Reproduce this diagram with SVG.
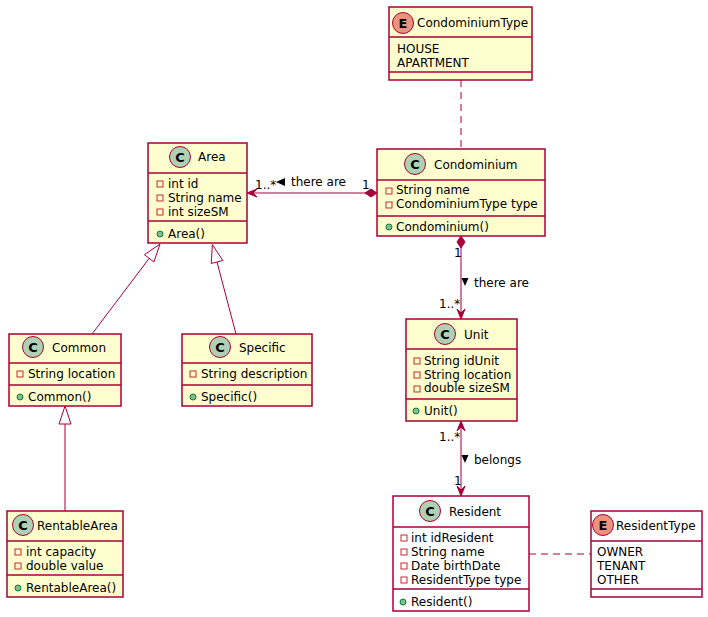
<svg xmlns="http://www.w3.org/2000/svg" width="708" height="617" viewBox="0 0 708 617">
<style>
text{font-family:"DejaVu Sans","Liberation Sans",sans-serif;font-size:12px;fill:#000}
.box{fill:#FEFECE;stroke:#A80036;stroke-width:1.5}
.wbox{fill:#FFFFFF;stroke:#A80036;stroke-width:1.5}
.sep{stroke:#A80036;stroke-width:1.5}
.cc{fill:#ADD1B2;stroke:#A80036;stroke-width:1}
.ec{fill:#EB937F;stroke:#A80036;stroke-width:1}
.lt{font-weight:bold;font-size:13px;text-anchor:middle}
.pv{fill:none;stroke:#C82930;stroke-width:1}
.pb{fill:#84BE84;stroke:#038048;stroke-width:1}
.ln{fill:none;stroke:#A80036;stroke-width:1}
.dl{fill:none;stroke:#A80036;stroke-width:1;stroke-dasharray:7,5}
.ah{fill:#A80036;stroke:#A80036;stroke-width:1}
.gh{fill:none;stroke:#A80036;stroke-width:1}
.la{fill:#000000;stroke:none}
</style>
<rect width="708" height="617" fill="#FFFFFF"/>

<g id="connectors">
<line class="dl" x1="461" y1="80" x2="461" y2="149"/>
<line class="dl" x1="529" y1="554" x2="591" y2="554"/>
<line class="ln" x1="250" y1="193" x2="366" y2="193"/>
<polygon class="ah" points="247,193 257,189 253,193 257,197"/>
<polygon class="ah" points="377,193 371,189 365,193 371,197"/>
<text x="255" y="189">1..*</text>
<polygon class="la" points="276,182 285,178 285,186"/>
<text x="291" y="186">there are</text>
<text x="362" y="189">1</text>
<line class="ln" x1="461" y1="247" x2="461" y2="316"/>
<polygon class="ah" points="461,236 457,242 461,248 465,242"/>
<polygon class="ah" points="461,319 457,309 461,313 465,309"/>
<text x="454" y="257">1</text>
<polygon class="la" points="461.5,278 468.5,278 465,286"/>
<text x="474" y="287">there are</text>
<text x="439" y="308">1..*</text>
<line class="ln" x1="461" y1="424" x2="461" y2="493"/>
<polygon class="ah" points="461,421 457,431 461,427 465,431"/>
<polygon class="ah" points="461,496 457,486 461,490 465,486"/>
<text x="439" y="441">1..*</text>
<polygon class="la" points="461.5,455 468.5,455 465,463"/>
<text x="474" y="464">belongs</text>
<text x="454" y="485">1</text>
<line class="ln" x1="149.15" y1="258.36" x2="92" y2="334"/>
<polygon class="gh" points="160,244 153.9,262 144.4,254.7"/>
<line class="ln" x1="217" y1="262" x2="236" y2="334"/>
<polygon class="gh" points="212.4,244.6 222.8,260.5 211.2,263.5"/>
<line class="ln" x1="65" y1="424" x2="65" y2="511"/>
<polygon class="gh" points="65,406 59,424 71,424"/>
</g>

<g id="CondominiumType">
<rect class="box" x="389" y="7" width="143" height="73"/>
<circle class="ec" cx="403" cy="23" r="10.5"/>
<text class="lt" x="403" y="27.5">E</text>
<text x="417" y="27">CondominiumType</text>
<line class="sep" x1="389" y1="37" x2="532" y2="37"/>
<text x="397" y="52.5">HOUSE</text>
<text x="397" y="66.5">APARTMENT</text>
<line class="sep" x1="389" y1="72" x2="532" y2="72"/>
</g>

<g id="Area">
<rect class="box" x="148" y="143" width="99" height="100"/>
<circle class="cc" cx="180" cy="157" r="10.5"/>
<text class="lt" x="180" y="161.5">C</text>
<text x="198" y="161">Area</text>
<line class="sep" x1="148" y1="173" x2="247" y2="173"/>
<rect class="pv" x="157" y="181" width="6" height="6"/>
<text x="168" y="187.5">int id</text>
<rect class="pv" x="157" y="195" width="6" height="6"/>
<text x="168" y="201.5">String name</text>
<rect class="pv" x="157" y="209" width="6" height="6"/>
<text x="168" y="215.5">int sizeSM</text>
<line class="sep" x1="148" y1="221" x2="247" y2="221"/>
<circle class="pb" cx="160" cy="234" r="3"/>
<text x="168" y="237.5">Area()</text>
</g>

<g id="Condominium">
<rect class="box" x="377" y="149" width="168" height="87"/>
<circle class="cc" cx="415" cy="164" r="10.5"/>
<text class="lt" x="415" y="168.5">C</text>
<text x="434" y="168.5">Condominium</text>
<line class="sep" x1="377" y1="180" x2="545" y2="180"/>
<rect class="pv" x="386" y="188" width="6" height="6"/>
<text x="396" y="194">String name</text>
<rect class="pv" x="386" y="202" width="6" height="6"/>
<text x="396" y="208">CondominiumType type</text>
<line class="sep" x1="377" y1="216" x2="545" y2="216"/>
<circle class="pb" cx="389" cy="227" r="3"/>
<text x="396" y="230.5">Condominium()</text>
</g>

<g id="Unit">
<rect class="box" x="406" y="319" width="111" height="102"/>
<circle class="cc" cx="445" cy="334" r="10.5"/>
<text class="lt" x="445" y="338.5">C</text>
<text x="464" y="338.5">Unit</text>
<line class="sep" x1="406" y1="349" x2="517" y2="349"/>
<rect class="pv" x="414" y="358" width="6" height="6"/>
<text x="424" y="364.5">String idUnit</text>
<rect class="pv" x="414" y="372" width="6" height="6"/>
<text x="424" y="378.5">String location</text>
<rect class="pv" x="414" y="386" width="6" height="6"/>
<text x="424" y="392">double sizeSM</text>
<line class="sep" x1="406" y1="399" x2="517" y2="399"/>
<circle class="pb" cx="416" cy="411" r="3"/>
<text x="424" y="414.5">Unit()</text>
</g>

<g id="Resident">
<rect class="wbox" x="393" y="496" width="136" height="115"/>
<circle class="cc" cx="430" cy="511" r="10.5"/>
<text class="lt" x="430" y="515.5">C</text>
<text x="449" y="515.5">Resident</text>
<line class="sep" x1="393" y1="527" x2="529" y2="527"/>
<rect class="pv" x="401" y="535" width="6" height="6"/>
<text x="411" y="541.5">int idResident</text>
<rect class="pv" x="401" y="549" width="6" height="6"/>
<text x="411" y="555.5">String name</text>
<rect class="pv" x="401" y="563" width="6" height="6"/>
<text x="411" y="569.5">Date birthDate</text>
<rect class="pv" x="401" y="577" width="6" height="6"/>
<text x="411" y="583.5">ResidentType type</text>
<line class="sep" x1="393" y1="589" x2="529" y2="589"/>
<circle class="pb" cx="403" cy="602" r="3"/>
<text x="411" y="605.5">Resident()</text>
</g>

<g id="ResidentType">
<rect class="wbox" x="591" y="511" width="111" height="86"/>
<circle class="ec" cx="603" cy="525" r="10.5"/>
<text class="lt" x="603" y="529.5">E</text>
<text x="616" y="529.5">ResidentType</text>
<line class="sep" x1="591" y1="541" x2="702" y2="541"/>
<text x="597" y="555.5">OWNER</text>
<text x="597" y="569.5">TENANT</text>
<text x="597" y="583.5">OTHER</text>
<line class="sep" x1="591" y1="589" x2="702" y2="589"/>
</g>

<g id="Common">
<rect class="box" x="9" y="334" width="112" height="72"/>
<circle class="cc" cx="33" cy="347" r="10.5"/>
<text class="lt" x="33" y="351.5">C</text>
<text x="52" y="351.5">Common</text>
<line class="sep" x1="9" y1="363" x2="121" y2="363"/>
<rect class="pv" x="17" y="371" width="6" height="6"/>
<text x="28" y="377.5">String location</text>
<line class="sep" x1="9" y1="385" x2="121" y2="385"/>
<circle class="pb" cx="20" cy="397" r="3"/>
<text x="28" y="400.5">Common()</text>
</g>

<g id="Specific">
<rect class="box" x="182" y="334" width="130" height="72"/>
<circle class="cc" cx="220" cy="347" r="10.5"/>
<text class="lt" x="220" y="351.5">C</text>
<text x="239" y="351.5">Specific</text>
<line class="sep" x1="182" y1="363" x2="312" y2="363"/>
<rect class="pv" x="190" y="371" width="6" height="6"/>
<text x="201" y="377.5">String description</text>
<line class="sep" x1="182" y1="385" x2="312" y2="385"/>
<circle class="pb" cx="193" cy="397" r="3"/>
<text x="201" y="400.5">Specific()</text>
</g>

<g id="RentableArea">
<rect class="box" x="7" y="511" width="116" height="86"/>
<circle class="cc" cx="23" cy="525" r="10.5"/>
<text class="lt" x="23" y="529.5">C</text>
<text x="37" y="529.5">RentableArea</text>
<line class="sep" x1="7" y1="541" x2="123" y2="541"/>
<rect class="pv" x="15" y="549" width="6" height="6"/>
<text x="26" y="555.5">int capacity</text>
<rect class="pv" x="15" y="563" width="6" height="6"/>
<text x="26" y="569.5">double value</text>
<line class="sep" x1="7" y1="575" x2="123" y2="575"/>
<circle class="pb" cx="18" cy="588" r="3"/>
<text x="26" y="591.5">RentableArea()</text>
</g>
</svg>
